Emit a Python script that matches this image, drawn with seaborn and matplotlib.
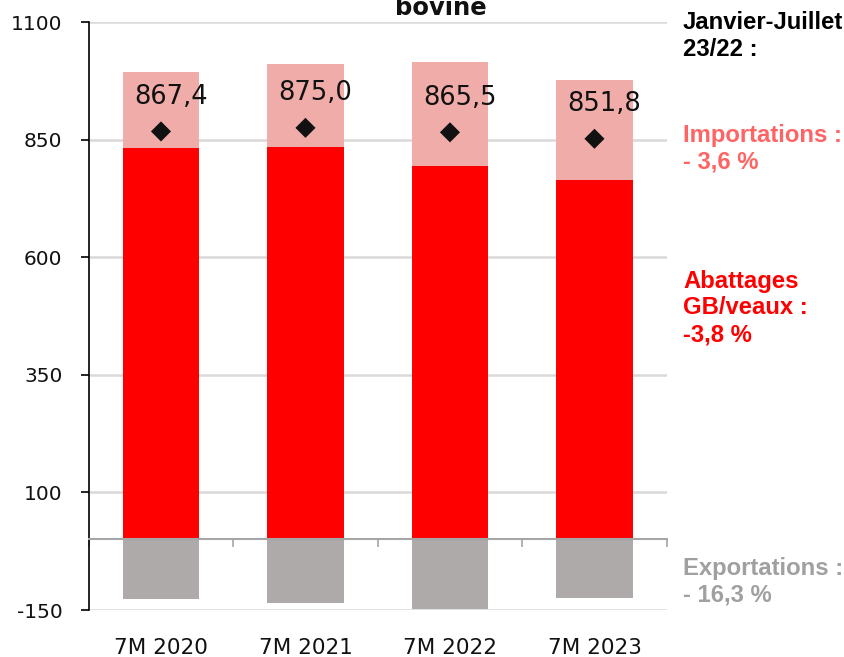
import numpy as np
import pandas as pd
import seaborn as sns
import matplotlib.pyplot as plt

# données (1000 téc)
periodes = ["7M 2020", "7M 2021", "7M 2022", "7M 2023"]
abattages = [831.4, 834.2, 793.8, 763.5]
importations = [161.6, 176.4, 220.4, 212.5]
exportations = [-125.6, -135.6, -148.7, -124.5]
consommation = [867.4, 875.0, 865.5, 851.8]
yticks = [-150, 100, 350, 600, 850, 1100]

df = pd.DataFrame({"periode": periodes, "abattages": abattages,
                   "importations": importations, "exportations": exportations,
                   "consommation": consommation})

sns.set_theme(style="white")
plt.rcParams['font.family'] = ['DejaVu Sans']

fig = plt.figure(figsize=(8.45, 6.57), dpi=100)
ax = fig.add_axes([0.105, 0.0715, 0.684, 0.895])

w = 0.53
sns.barplot(data=df, x="periode", y="abattages", color="#FF0000", width=w,
            saturation=1, linewidth=0, ax=ax, zorder=2)
sns.barplot(data=df, x="periode", y="importations", color="#EFACA8", width=w,
            saturation=1, linewidth=0, bottom=df["abattages"], ax=ax, zorder=2)
sns.barplot(data=df, x="periode", y="exportations", color="#AEAAAA", width=w,
            saturation=1, linewidth=0, ax=ax, zorder=2)
sns.scatterplot(data=df, x="periode", y="consommation", marker="D", s=105,
                color="#111111", edgecolor="none", ax=ax, zorder=4)

for i, v in enumerate(consommation):
    ax.annotate(f"{v:.1f}".replace(".", ","), (i, v), xytext=(7, 25),
                textcoords="offset points", ha="center", va="center",
                fontsize=18.5, color="#111111", zorder=5)

ax.set_xlim(-0.5, 3.5)
ax.set_ylim(-150, 1100)
ax.set_yticks(yticks)
ax.set_yticklabels([str(t) for t in yticks], fontsize=14.5)
ax.yaxis.grid(True, color="#D9D9D9", lw=1.8, zorder=0)
ax.set_axisbelow(True)
ax.set_xlabel("")
ax.set_ylabel("")

for s in ["top", "right"]:
    ax.spines[s].set_visible(False)
ax.spines["left"].set_color("black")
ax.spines["left"].set_linewidth(1.2)
ax.tick_params(axis="y", left=True, length=6, width=1.2, color="black",
               pad=13, labelcolor="#111111")

# axe zéro avec graduations entre catégories
ax.spines["bottom"].set_position(("data", 0))
ax.spines["bottom"].set_color("#A6A6A6")
ax.spines["bottom"].set_linewidth(1.5)
ax.spines["bottom"].set_zorder(3)
ax.set_xticks(np.arange(-0.5, 4, 1), minor=True)
ax.tick_params(axis="x", which="minor", bottom=True, length=6, width=1.2,
               color="#A6A6A6", direction="out")
ax.tick_params(axis="x", which="major", bottom=False, labelbottom=False)

sec = ax.secondary_xaxis("bottom")
sec.set_xticks(range(len(periodes)))
sec.set_xticklabels(periodes, fontsize=15.5, color="#111111")
sec.tick_params(length=0, pad=20)
sec.spines["bottom"].set_visible(False)

fig.text(441 / 845, 1 - 15 / 657, "bovine", ha="center", va="baseline",
         fontsize=17.5, fontweight="bold", color="#111111")

af = ["Liberation Sans", "DejaVu Sans"]
x0 = 683 / 845
def note(y, txt, col):
    fig.text(x0, 1 - y / 657, txt, ha="left", va="center", fontsize=17.2,
             fontweight="bold", color=col, family=af, linespacing=1.2)

note(36, "Janvier-Juillet\n23/22 :", "black")
note(149, "Importations :\n- 3,6 %", "#FF6464")
note(308, "Abattages\nGB/veaux :\n-3,8 %", "#FF0000")
note(582, "Exportations :\n- 16,3 %", "#A0A0A0")

fig.savefig("out.png", dpi=100)
